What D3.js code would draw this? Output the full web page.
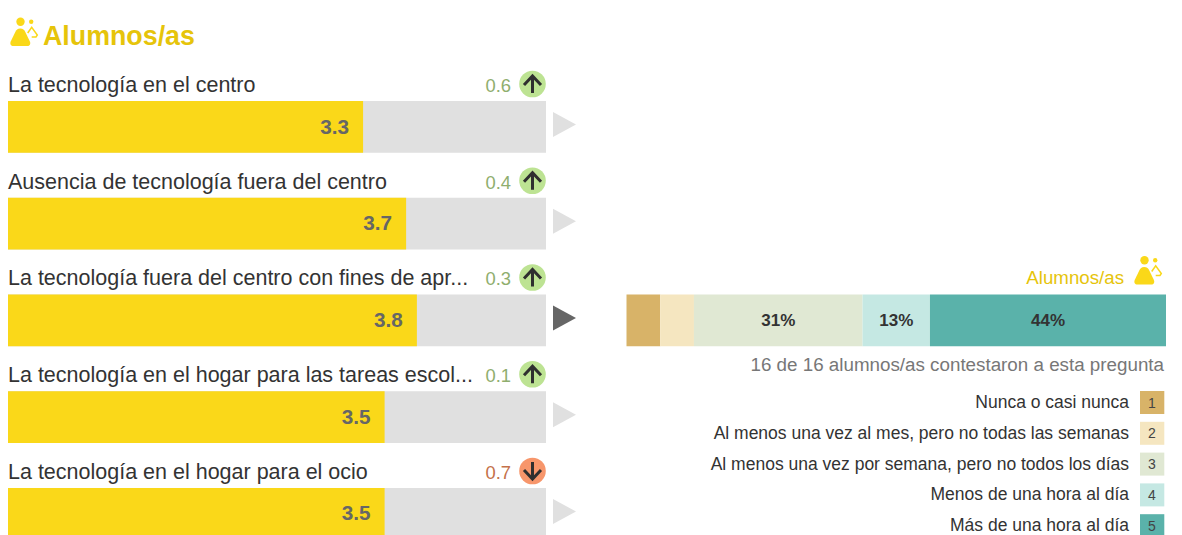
<!DOCTYPE html>
<html>
<head>
<meta charset="utf-8">
<script src="https://cdn.jsdelivr.net/npm/d3@7"></script>
<style>
  html, body { margin: 0; padding: 0; background: #fff; overflow: hidden; }
  svg { display: block; }
  text { font-family: "Liberation Sans", Arial, sans-serif; }
</style>
</head>
<body>
<div id="chart"></div>
<script>
// Values
var categories = [
    "La tecnología en el centro",
    "Ausencia de tecnología fuera del centro",
    "La tecnología fuera del centro con fines de apr...",
    "La tecnología en el hogar para las tareas escol...",
    "La tecnología en el hogar para el ocio"
];
var scores = [3.3, 3.7, 3.8, 3.5, 3.5];
var changes = [0.6, 0.4, 0.3, 0.1, 0.7];
var directions = ["up", "up", "up", "up", "down"];
var activeRow = 2;

var answerLabels = [
    "Nunca o casi nunca",
    "Al menos una vez al mes, pero no todas las semanas",
    "Al menos una vez por semana, pero no todos los días",
    "Menos de una hora al día",
    "Más de una hora al día"
];
var answerShares = [6.25, 6.25, 31.25, 12.5, 43.75];
var answerText = ["", "", "31%", "13%", "44%"];
var answerColors = ["#d8b368", "#f5e6c0", "#e0e8d3", "#c5e8e3", "#5ab2aa"];

var yellow = "#fad819", titleYellow = "#e6c40a";

var svg = d3.select("#chart").append("svg")
    .attr("width", 1182)
    .attr("height", 535);

// Little pupil + teacher icon
function icon(x, y) {
    var g = svg.append("g")
        .attr("transform", "translate(" + x + "," + y + ")")
        .attr("fill", yellow);
    g.append("circle").attr("cx", 10).attr("cy", 3.7).attr("r", 4.2);
    g.append("circle").attr("cx", 20.7).attr("cy", 3.7).attr("r", 2.2);
    g.append("path")
        .attr("d", "M9.7 10.5 C12.5 10.5 13.8 12 14.8 14 L19.4 23.5 C20.4 26 19.2 28 16.8 28 L2.8 28 C0.4 28 -0.8 26 0.2 23.5 L4.8 14 C5.8 12 7 10.5 9.7 10.5 Z");
    g.append("path")
        .attr("d", "M17.2 15 L21.2 9.3 L26.8 17 L25.5 19 L21.2 19")
        .attr("fill", "none")
        .attr("stroke", yellow)
        .attr("stroke-width", 1.5);
}

icon(10.5, 18);
svg.append("text")
    .attr("x", 43).attr("y", 45)
    .attr("font-size", 26.8).attr("font-weight", "bold")
    .attr("fill", titleYellow)
    .text("Alumnos/as");

// Left side, one bar per category
var x = d3.scaleLinear().domain([0, 5]).range([8, 546]);
var y = d3.scaleBand()
    .domain(d3.range(categories.length))
    .range([101, 101 + 96.75 * 5 - 45])
    .paddingInner(0.465)
    .paddingOuter(0)
    .align(0);

var rows = svg.selectAll(".row")
    .data(categories)
    .enter().append("g")
    .attr("class", "row")
    .attr("transform", function(d, i) { return "translate(0," + y(i) + ")"; });

rows.append("rect")
    .attr("x", x(0)).attr("y", 0)
    .attr("width", x(5) - x(0))
    .attr("height", y.bandwidth())
    .attr("fill", "#e0e0e0");

rows.append("rect")
    .attr("x", x(0)).attr("y", 0)
    .attr("width", function(d, i) { return x(scores[i]) - x(0); })
    .attr("height", y.bandwidth())
    .attr("fill", yellow);

rows.append("text")
    .attr("x", function(d, i) { return x(scores[i]) - 14; })
    .attr("y", 32.5)
    .attr("text-anchor", "end")
    .attr("font-size", 20.7).attr("font-weight", "bold")
    .attr("fill", "#666")
    .text(function(d, i) { return scores[i].toFixed(1); });

rows.append("text")
    .attr("x", 8).attr("y", -9)
    .attr("font-size", 21.5)
    .attr("fill", "#333")
    .text(function(d) { return d; });

rows.append("text")
    .attr("x", 511).attr("y", -9)
    .attr("text-anchor", "end")
    .attr("font-size", 18.4)
    .attr("fill", function(d, i) { return directions[i] == "up" ? "#8fae6e" : "#c4714a"; })
    .text(function(d, i) { return changes[i].toFixed(1); });

rows.append("circle")
    .attr("cx", 532.5).attr("cy", -17)
    .attr("r", 13.3)
    .attr("fill", function(d, i) { return directions[i] == "up" ? "#bde393" : "#f7966b"; });

rows.append("path")
    .attr("d", function(d, i) {
        return directions[i] == "up"
            ? "M532.5 -8 V-25 M524 -16 L532.5 -25 L541 -16"
            : "M532.5 -26 V-9 M524 -18 L532.5 -9 L541 -18";
    })
    .attr("fill", "none")
    .attr("stroke", "#2f2f2f")
    .attr("stroke-width", 3);

rows.append("path")
    .attr("d", "M553 11 L576 23.5 L553 36 Z")
    .attr("fill", function(d, i) { return i == activeRow ? "#666" : "#e0e0e0"; });

// Right side, stacked bar for the selected row
var x2 = d3.scaleLinear().domain([0, 100]).range([626.5, 1166]);
var barTop = y(activeRow);
var stacked = d3.cumsum(answerShares);

svg.selectAll(".seg")
    .data(answerShares)
    .enter().append("rect")
    .attr("class", "seg")
    .attr("x", function(d, i) { return x2(stacked[i] - d); })
    .attr("y", barTop)
    .attr("width", function(d) { return x2(d) - x2(0); })
    .attr("height", y.bandwidth())
    .attr("fill", function(d, i) { return answerColors[i]; });

svg.selectAll(".segLabel")
    .data(answerShares)
    .enter().append("text")
    .attr("class", "segLabel")
    .attr("x", function(d, i) { return x2(stacked[i] - d / 2); })
    .attr("y", barTop + 32)
    .attr("text-anchor", "middle")
    .attr("font-size", 17).attr("font-weight", "bold")
    .attr("fill", "#333")
    .text(function(d, i) { return answerText[i]; });

svg.append("text")
    .attr("x", 1124).attr("y", 284)
    .attr("text-anchor", "end")
    .attr("font-size", 18.7)
    .attr("fill", titleYellow)
    .text("Alumnos/as");
icon(1134.5, 256.5);

svg.append("text")
    .attr("x", 1164).attr("y", 371)
    .attr("text-anchor", "end")
    .attr("font-size", 18.8)
    .attr("fill", "#777")
    .text("16 de 16 alumnos/as contestaron a esta pregunta");

// Legend
var legendY = d3.scalePoint().domain(d3.range(answerLabels.length)).range([402.5, 525.7]);

var legend = svg.selectAll(".legend")
    .data(answerLabels)
    .enter().append("g")
    .attr("class", "legend")
    .attr("transform", function(d, i) { return "translate(0," + legendY(i) + ")"; });

legend.append("rect")
    .attr("x", 1140).attr("y", -11.5)
    .attr("width", 24.3).attr("height", 23)
    .attr("fill", function(d, i) { return answerColors[i]; });

legend.append("text")
    .attr("x", 1152).attr("y", 5)
    .attr("text-anchor", "middle")
    .attr("font-size", 14)
    .attr("fill", "#444")
    .text(function(d, i) { return i + 1; });

legend.append("text")
    .attr("x", 1129).attr("y", 5.5)
    .attr("text-anchor", "end")
    .attr("font-size", 17.5)
    .attr("fill", "#333")
    .text(function(d) { return d; });
</script>
</body>
</html>
